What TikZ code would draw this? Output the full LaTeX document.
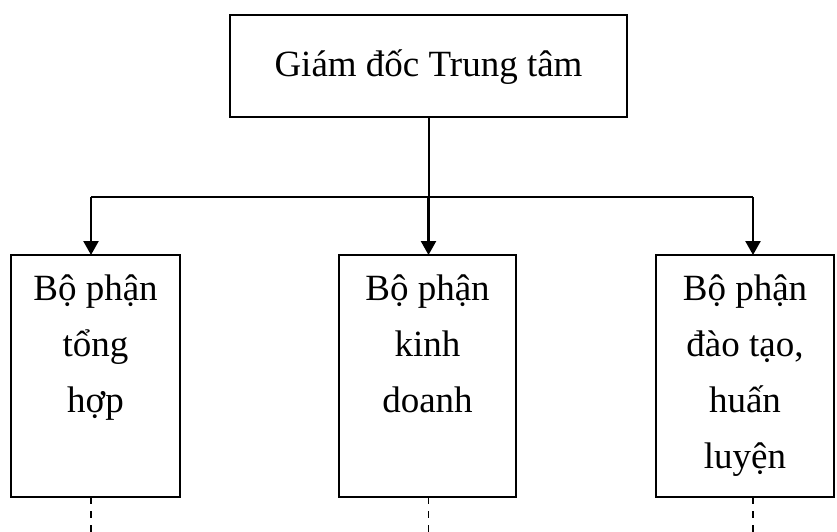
\documentclass[tikz,border=0pt]{standalone}
\usepackage{fontspec}
\setmainfont{Liberation Serif}
\usetikzlibrary{arrows.meta}
\tikzset{
  box/.style={draw, line width=2pt, inner sep=0pt, outer sep=0pt},
  conn/.style={line width=2.2pt},
  arr/.style={line width=2.4pt, -{Triangle[width=15pt,length=14pt]}},
  dline/.style={line width=1.8pt, dash pattern=on 7pt off 7pt}
}
\newcommand{\boxtext}[4]{\parbox[c][#2][t]{#1}{\centering\fontsize{37}{56}\selectfont\rule{0pt}{#3}#4}}
\begin{document}
\begin{tikzpicture}[x=1pt,y=-1pt]
\useasboundingbox (0,0) rectangle (837,532);
\node[box] (gd) at (428.5,66) {\boxtext{397pt}{102pt}{62pt}{Giám đốc Trung tâm}};
\node[box] (bl) at (95.5,376) {\boxtext{169pt}{242pt}{45pt}{Bộ phận\\tổng\\hợp}};
\node[box] (bm) at (427.5,376) {\boxtext{177pt}{242pt}{45pt}{Bộ phận\\kinh\\doanh}};
\node[box] (br) at (745,376) {\boxtext{178pt}{242pt}{45pt}{Bộ phận\\đào tạo,\\huấn\\luyện}};
\coordinate (hL) at (91,197);
\coordinate (hR) at (753,197);
\coordinate (hM) at (gd.south |- hL);
\coordinate (eL) at (91,532);
\coordinate (eM) at (428.5,532);
\coordinate (eR) at (753,532);
\draw[conn] (hL) -- (hR);
\draw[conn, line width=2pt] (gd.south) -- (hM);
\draw[arr] (hM) -- (hM |- bm.north);
\draw[arr] (hL) -- (hL |- bl.north);
\draw[arr] (hR) -- (hR |- br.north);
\draw[dline] (bl.south -| hL) -- (eL);
\draw[dline] (bm.south -| eM) -- (eM);
\draw[dline] (br.south -| hR) -- (eR);
\end{tikzpicture}
\end{document}
